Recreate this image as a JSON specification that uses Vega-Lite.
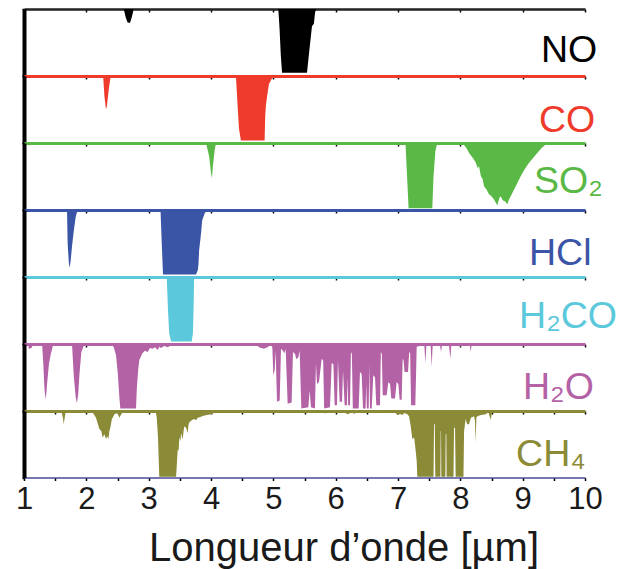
{
  "$schema": "https://vega.github.io/schema/vega-lite/v6.json",
  "background": "white",
  "padding": {"left": 15, "top": 8, "right": 0, "bottom": 0},
  "spacing": 0,
  "bounds": "flush",
  "config": {"view": {"stroke": null}, "font": "Liberation Sans", "axis": {"grid": false}},
  "datasets": {
    "spectra": [
      {"species":"NO","wl":2.60,"a":0},{"species":"NO","wl":2.63,"a":0.12},{"species":"NO","wl":2.66,"a":0.2},{"species":"NO","wl":2.70,"a":0.21},{"species":"NO","wl":2.73,"a":0.12},{"species":"NO","wl":2.76,"a":0},
      {"species":"NO","wl":5.08,"a":0},{"species":"NO","wl":5.10,"a":0.3},{"species":"NO","wl":5.12,"a":0.7},{"species":"NO","wl":5.14,"a":0.96},{"species":"NO","wl":5.54,"a":0.96},{"species":"NO","wl":5.58,"a":0.6},{"species":"NO","wl":5.62,"a":0.26},{"species":"NO","wl":5.65,"a":0.22},{"species":"NO","wl":5.67,"a":0.05},{"species":"NO","wl":5.69,"a":0},
      {"species":"CO","wl":2.27,"a":0},{"species":"CO","wl":2.29,"a":0.3},{"species":"CO","wl":2.315,"a":0.5},{"species":"CO","wl":2.33,"a":0.45},{"species":"CO","wl":2.36,"a":0.2},{"species":"CO","wl":2.39,"a":0},
      {"species":"CO","wl":4.40,"a":0},{"species":"CO","wl":4.43,"a":0.5},{"species":"CO","wl":4.45,"a":0.8},{"species":"CO","wl":4.48,"a":0.97},{"species":"CO","wl":4.86,"a":0.97},{"species":"CO","wl":4.87,"a":0.6},{"species":"CO","wl":4.88,"a":0.45},{"species":"CO","wl":4.90,"a":0.3},{"species":"CO","wl":4.93,"a":0.12},{"species":"CO","wl":4.97,"a":0.05},{"species":"CO","wl":5.01,"a":0},
      {"species":"SO2","wl":3.92,"a":0},{"species":"SO2","wl":3.97,"a":0.2},{"species":"SO2","wl":4.0,"a":0.45},{"species":"SO2","wl":4.015,"a":0.53},{"species":"SO2","wl":4.03,"a":0.35},{"species":"SO2","wl":4.06,"a":0.1},{"species":"SO2","wl":4.08,"a":0},
      {"species":"SO2","wl":7.12,"a":0},{"species":"SO2","wl":7.14,"a":0.4},{"species":"SO2","wl":7.17,"a":0.98},{"species":"SO2","wl":7.55,"a":0.98},{"species":"SO2","wl":7.57,"a":0.5},{"species":"SO2","wl":7.60,"a":0.12},{"species":"SO2","wl":7.63,"a":0},
      {"species":"SO2","wl":8.02,"a":0},{"species":"SO2","wl":8.06,"a":0.03},{"species":"SO2","wl":8.10,"a":0.08},{"species":"SO2","wl":8.14,"a":0.15},{"species":"SO2","wl":8.18,"a":0.2},{"species":"SO2","wl":8.22,"a":0.25},{"species":"SO2","wl":8.25,"a":0.30},{"species":"SO2","wl":8.28,"a":0.38},{"species":"SO2","wl":8.30,"a":0.35},{"species":"SO2","wl":8.33,"a":0.5},{"species":"SO2","wl":8.36,"a":0.55},{"species":"SO2","wl":8.38,"a":0.65},{"species":"SO2","wl":8.42,"a":0.7},{"species":"SO2","wl":8.46,"a":0.77},{"species":"SO2","wl":8.50,"a":0.8},{"species":"SO2","wl":8.54,"a":0.85},{"species":"SO2","wl":8.57,"a":0.9},{"species":"SO2","wl":8.594,"a":0.94},{"species":"SO2","wl":8.61,"a":0.88},{"species":"SO2","wl":8.63,"a":0.82},{"species":"SO2","wl":8.648,"a":0.80},{"species":"SO2","wl":8.68,"a":0.86},{"species":"SO2","wl":8.72,"a":0.88},{"species":"SO2","wl":8.755,"a":0.92},{"species":"SO2","wl":8.78,"a":0.85},{"species":"SO2","wl":8.808,"a":0.80},{"species":"SO2","wl":8.85,"a":0.72},{"species":"SO2","wl":8.889,"a":0.65},{"species":"SO2","wl":8.93,"a":0.57},{"species":"SO2","wl":8.969,"a":0.50},{"species":"SO2","wl":9.03,"a":0.40},{"species":"SO2","wl":9.10,"a":0.30},{"species":"SO2","wl":9.17,"a":0.22},{"species":"SO2","wl":9.235,"a":0.15},{"species":"SO2","wl":9.30,"a":0.08},{"species":"SO2","wl":9.36,"a":0.03},{"species":"SO2","wl":9.40,"a":0},
      {"species":"HCl","wl":1.69,"a":0},{"species":"HCl","wl":1.70,"a":0.5},{"species":"HCl","wl":1.72,"a":0.8},{"species":"HCl","wl":1.733,"a":0.87},{"species":"HCl","wl":1.75,"a":0.75},{"species":"HCl","wl":1.77,"a":0.55},{"species":"HCl","wl":1.80,"a":0.3},{"species":"HCl","wl":1.83,"a":0.1},{"species":"HCl","wl":1.86,"a":0},
      {"species":"HCl","wl":3.19,"a":0},{"species":"HCl","wl":3.21,"a":0.5},{"species":"HCl","wl":3.23,"a":0.97},{"species":"HCl","wl":3.76,"a":0.97},{"species":"HCl","wl":3.79,"a":0.9},{"species":"HCl","wl":3.80,"a":0.8},{"species":"HCl","wl":3.81,"a":0.6},{"species":"HCl","wl":3.835,"a":0.4},{"species":"HCl","wl":3.86,"a":0.15},{"species":"HCl","wl":3.90,"a":0.05},{"species":"HCl","wl":3.94,"a":0},
      {"species":"H2CO","wl":3.29,"a":0},{"species":"H2CO","wl":3.31,"a":0.5},{"species":"H2CO","wl":3.33,"a":0.85},{"species":"H2CO","wl":3.36,"a":0.97},{"species":"H2CO","wl":3.69,"a":0.97},{"species":"H2CO","wl":3.71,"a":0.85},{"species":"H2CO","wl":3.72,"a":0.5},{"species":"H2CO","wl":3.73,"a":0},
      {"species":"H2O","wl":1.06,"a":0},{"species":"H2O","wl":1.08,"a":0.07},{"species":"H2O","wl":1.12,"a":0.06},{"species":"H2O","wl":1.15,"a":0},
      {"species":"H2O","wl":1.29,"a":0},{"species":"H2O","wl":1.31,"a":0.3},{"species":"H2O","wl":1.33,"a":0.7},{"species":"H2O","wl":1.35,"a":0.84},{"species":"H2O","wl":1.37,"a":0.6},{"species":"H2O","wl":1.40,"a":0.3},{"species":"H2O","wl":1.43,"a":0.15},{"species":"H2O","wl":1.45,"a":0.08},{"species":"H2O","wl":1.47,"a":0},
      {"species":"H2O","wl":1.77,"a":0},{"species":"H2O","wl":1.80,"a":0.5},{"species":"H2O","wl":1.83,"a":0.8},{"species":"H2O","wl":1.85,"a":0.89},{"species":"H2O","wl":1.87,"a":0.75},{"species":"H2O","wl":1.89,"a":0.45},{"species":"H2O","wl":1.92,"a":0.12},{"species":"H2O","wl":1.95,"a":0.05},{"species":"H2O","wl":1.97,"a":0},
      {"species":"H2O","wl":2.40,"a":0},{"species":"H2O","wl":2.44,"a":0.05},{"species":"H2O","wl":2.476,"a":0.17},{"species":"H2O","wl":2.503,"a":0.42},{"species":"H2O","wl":2.53,"a":0.8},{"species":"H2O","wl":2.545,"a":0.97},{"species":"H2O","wl":2.797,"a":0.97},{"species":"H2O","wl":2.81,"a":0.67},{"species":"H2O","wl":2.834,"a":0.37},{"species":"H2O","wl":2.85,"a":0.24},{"species":"H2O","wl":2.87,"a":0.2},{"species":"H2O","wl":2.90,"a":0.14},{"species":"H2O","wl":2.94,"a":0.10},{"species":"H2O","wl":2.985,"a":0.12},{"species":"H2O","wl":3.02,"a":0.06},{"species":"H2O","wl":3.065,"a":0.07},{"species":"H2O","wl":3.10,"a":0.05},{"species":"H2O","wl":3.145,"a":0.09},{"species":"H2O","wl":3.17,"a":0.04},{"species":"H2O","wl":3.198,"a":0.06},{"species":"H2O","wl":3.25,"a":0.03},{"species":"H2O","wl":3.305,"a":0.05},{"species":"H2O","wl":3.36,"a":0.02},{"species":"H2O","wl":3.41,"a":0.03},{"species":"H2O","wl":3.50,"a":0.01},{"species":"H2O","wl":3.63,"a":0},
      {"species":"H2O","wl":4.717,"a":0},{"species":"H2O","wl":4.770,"a":0.05},{"species":"H2O","wl":4.850,"a":0.07},{"species":"H2O","wl":4.920,"a":0.04},{"species":"H2O","wl":4.957,"a":0},{"species":"H2O","wl":4.984,"a":0.05},{"species":"H2O","wl":5.000,"a":0.47},{"species":"H2O","wl":5.021,"a":0.40},{"species":"H2O","wl":5.037,"a":0.1},{"species":"H2O","wl":5.059,"a":0.87},{"species":"H2O","wl":5.102,"a":0.85},{"species":"H2O","wl":5.123,"a":0.07},{"species":"H2O","wl":5.155,"a":0.1},{"species":"H2O","wl":5.176,"a":0.14},{"species":"H2O","wl":5.198,"a":0.08},{"species":"H2O","wl":5.230,"a":0.9},{"species":"H2O","wl":5.294,"a":0.88},{"species":"H2O","wl":5.315,"a":0.12},{"species":"H2O","wl":5.348,"a":0.15},{"species":"H2O","wl":5.369,"a":0.23},{"species":"H2O","wl":5.401,"a":0.2},{"species":"H2O","wl":5.422,"a":0.1},{"species":"H2O","wl":5.449,"a":0.97},{"species":"H2O","wl":5.562,"a":0.95},{"species":"H2O","wl":5.583,"a":0.7},{"species":"H2O","wl":5.604,"a":0.95},{"species":"H2O","wl":5.668,"a":0.97},{"species":"H2O","wl":5.684,"a":0.29},{"species":"H2O","wl":5.701,"a":0.6},{"species":"H2O","wl":5.733,"a":0.57},{"species":"H2O","wl":5.775,"a":0.22},{"species":"H2O","wl":5.800,"a":0.25},{"species":"H2O","wl":5.815,"a":0.97},{"species":"H2O","wl":5.909,"a":0.95},{"species":"H2O","wl":5.936,"a":0.29},{"species":"H2O","wl":5.963,"a":0.3},{"species":"H2O","wl":5.984,"a":0.92},{"species":"H2O","wl":6.021,"a":0.92},{"species":"H2O","wl":6.037,"a":0.24},{"species":"H2O","wl":6.064,"a":0.87},{"species":"H2O","wl":6.102,"a":0.87},{"species":"H2O","wl":6.118,"a":0.4},{"species":"H2O","wl":6.144,"a":0.92},{"species":"H2O","wl":6.180,"a":0.92},{"species":"H2O","wl":6.190,"a":0.5},{"species":"H2O","wl":6.200,"a":0.92},{"species":"H2O","wl":6.230,"a":0.92},{"species":"H2O","wl":6.245,"a":0.12},{"species":"H2O","wl":6.260,"a":0.15},{"species":"H2O","wl":6.275,"a":0.97},{"species":"H2O","wl":6.369,"a":0.97},{"species":"H2O","wl":6.390,"a":0.42},{"species":"H2O","wl":6.417,"a":0.45},{"species":"H2O","wl":6.439,"a":0.97},{"species":"H2O","wl":6.480,"a":0.97},{"species":"H2O","wl":6.490,"a":0.6},{"species":"H2O","wl":6.500,"a":0.97},{"species":"H2O","wl":6.530,"a":0.97},{"species":"H2O","wl":6.540,"a":0.3},{"species":"H2O","wl":6.550,"a":0.97},{"species":"H2O","wl":6.578,"a":0.97},{"species":"H2O","wl":6.604,"a":0.47},{"species":"H2O","wl":6.631,"a":0.5},{"species":"H2O","wl":6.652,"a":0.92},{"species":"H2O","wl":6.711,"a":0.92},{"species":"H2O","wl":6.725,"a":0.12},{"species":"H2O","wl":6.740,"a":0.15},{"species":"H2O","wl":6.755,"a":0.77},{"species":"H2O","wl":6.818,"a":0.77},{"species":"H2O","wl":6.845,"a":0.57},{"species":"H2O","wl":6.872,"a":0.6},{"species":"H2O","wl":6.893,"a":0.82},{"species":"H2O","wl":6.952,"a":0.82},{"species":"H2O","wl":6.979,"a":0.57},{"species":"H2O","wl":7.005,"a":0.6},{"species":"H2O","wl":7.027,"a":0.84},{"species":"H2O","wl":7.059,"a":0.84},{"species":"H2O","wl":7.075,"a":0.22},{"species":"H2O","wl":7.090,"a":0.25},{"species":"H2O","wl":7.105,"a":0.42},{"species":"H2O","wl":7.161,"a":0.42},{"species":"H2O","wl":7.180,"a":0.12},{"species":"H2O","wl":7.195,"a":0.14},{"species":"H2O","wl":7.210,"a":0.92},{"species":"H2O","wl":7.278,"a":0.92},{"species":"H2O","wl":7.300,"a":0.04},{"species":"H2O","wl":7.391,"a":0.02},{"species":"H2O","wl":7.423,"a":0.03},{"species":"H2O","wl":7.439,"a":0.29},{"species":"H2O","wl":7.455,"a":0.03},{"species":"H2O","wl":7.524,"a":0.03},{"species":"H2O","wl":7.540,"a":0.34},{"species":"H2O","wl":7.556,"a":0.03},{"species":"H2O","wl":7.604,"a":0.01},{"species":"H2O","wl":7.674,"a":0.02},{"species":"H2O","wl":7.690,"a":0.12},{"species":"H2O","wl":7.706,"a":0.01},{"species":"H2O","wl":7.818,"a":0.02},{"species":"H2O","wl":7.840,"a":0.22},{"species":"H2O","wl":7.856,"a":0.01},{"species":"H2O","wl":7.979,"a":0.01},{"species":"H2O","wl":8.000,"a":0.05},{"species":"H2O","wl":8.016,"a":0},{"species":"H2O","wl":8.150,"a":0},{"species":"H2O","wl":8.166,"a":0.12},{"species":"H2O","wl":8.182,"a":0},
      {"species":"CH4","wl":1.60,"a":0},{"species":"CH4","wl":1.625,"a":0.1},{"species":"CH4","wl":1.637,"a":0.2},{"species":"CH4","wl":1.65,"a":0.12},{"species":"CH4","wl":1.67,"a":0},
      {"species":"CH4","wl":2.08,"a":0},{"species":"CH4","wl":2.10,"a":0.02},{"species":"CH4","wl":2.155,"a":0.1},{"species":"CH4","wl":2.209,"a":0.27},{"species":"CH4","wl":2.24,"a":0.3},{"species":"CH4","wl":2.262,"a":0.4},{"species":"CH4","wl":2.29,"a":0.35},{"species":"CH4","wl":2.316,"a":0.42},{"species":"CH4","wl":2.335,"a":0.38},{"species":"CH4","wl":2.353,"a":0.42},{"species":"CH4","wl":2.37,"a":0.3},{"species":"CH4","wl":2.385,"a":0.25},{"species":"CH4","wl":2.41,"a":0.12},{"species":"CH4","wl":2.423,"a":0.1},{"species":"CH4","wl":2.45,"a":0.05},{"species":"CH4","wl":2.50,"a":0.03},{"species":"CH4","wl":2.53,"a":0.1},{"species":"CH4","wl":2.56,"a":0.05},{"species":"CH4","wl":2.60,"a":0},
      {"species":"CH4","wl":3.11,"a":0},{"species":"CH4","wl":3.13,"a":0.1},{"species":"CH4","wl":3.15,"a":0.4},{"species":"CH4","wl":3.17,"a":0.99},{"species":"CH4","wl":3.44,"a":0.99},{"species":"CH4","wl":3.466,"a":0.58},{"species":"CH4","wl":3.48,"a":0.6},{"species":"CH4","wl":3.492,"a":0.40},{"species":"CH4","wl":3.51,"a":0.45},{"species":"CH4","wl":3.519,"a":0.33},{"species":"CH4","wl":3.546,"a":0.43},{"species":"CH4","wl":3.56,"a":0.3},{"species":"CH4","wl":3.573,"a":0.23},{"species":"CH4","wl":3.60,"a":0.25},{"species":"CH4","wl":3.626,"a":0.33},{"species":"CH4","wl":3.64,"a":0.2},{"species":"CH4","wl":3.653,"a":0.17},{"species":"CH4","wl":3.70,"a":0.13},{"species":"CH4","wl":3.733,"a":0.12},{"species":"CH4","wl":3.76,"a":0.14},{"species":"CH4","wl":3.787,"a":0.1},{"species":"CH4","wl":3.83,"a":0.09},{"species":"CH4","wl":3.867,"a":0.075},{"species":"CH4","wl":3.93,"a":0.06},{"species":"CH4","wl":4.001,"a":0.05},{"species":"CH4","wl":4.05,"a":0.03},{"species":"CH4","wl":4.108,"a":0.02},{"species":"CH4","wl":4.15,"a":0},
      {"species":"CH4","wl":5.40,"a":0},{"species":"CH4","wl":5.43,"a":0.03},{"species":"CH4","wl":5.46,"a":0},{"species":"CH4","wl":5.80,"a":0},{"species":"CH4","wl":5.83,"a":0.04},{"species":"CH4","wl":5.86,"a":0},{"species":"CH4","wl":6.10,"a":0},{"species":"CH4","wl":6.15,"a":0.03},{"species":"CH4","wl":6.20,"a":0.05},{"species":"CH4","wl":6.25,"a":0.02},{"species":"CH4","wl":6.30,"a":0.04},{"species":"CH4","wl":6.35,"a":0.02},{"species":"CH4","wl":6.40,"a":0},
      {"species":"CH4","wl":6.50,"a":0},{"species":"CH4","wl":6.54,"a":0.03},{"species":"CH4","wl":6.60,"a":0.02},{"species":"CH4","wl":6.64,"a":0.03},{"species":"CH4","wl":6.70,"a":0},{"species":"CH4","wl":6.75,"a":0.02},{"species":"CH4","wl":6.80,"a":0},{"species":"CH4","wl":6.95,"a":0.02},{"species":"CH4","wl":6.99,"a":0.06},{"species":"CH4","wl":7.03,"a":0.04},{"species":"CH4","wl":7.07,"a":0.06},{"species":"CH4","wl":7.10,"a":0.03},{"species":"CH4","wl":7.15,"a":0.05},{"species":"CH4","wl":7.177,"a":0.08},{"species":"CH4","wl":7.203,"a":0.22},{"species":"CH4","wl":7.23,"a":0.42},{"species":"CH4","wl":7.26,"a":0.4},{"species":"CH4","wl":7.284,"a":0.6},{"species":"CH4","wl":7.30,"a":0.75},{"species":"CH4","wl":7.31,"a":0.99},{"species":"CH4","wl":7.57,"a":0.99},{"species":"CH4","wl":7.578,"a":0.2},{"species":"CH4","wl":7.59,"a":0.2},{"species":"CH4","wl":7.598,"a":0.99},{"species":"CH4","wl":7.68,"a":0.99},{"species":"CH4","wl":7.685,"a":0.3},{"species":"CH4","wl":7.69,"a":0.3},{"species":"CH4","wl":7.695,"a":0.99},{"species":"CH4","wl":7.76,"a":0.99},{"species":"CH4","wl":7.765,"a":0.35},{"species":"CH4","wl":7.775,"a":0.35},{"species":"CH4","wl":7.78,"a":0.99},{"species":"CH4","wl":7.89,"a":0.99},{"species":"CH4","wl":7.899,"a":0.25},{"species":"CH4","wl":7.915,"a":0.25},{"species":"CH4","wl":7.925,"a":0.99},{"species":"CH4","wl":8.05,"a":0.99},{"species":"CH4","wl":8.06,"a":0.3},{"species":"CH4","wl":8.086,"a":0.12},{"species":"CH4","wl":8.11,"a":0.2},{"species":"CH4","wl":8.139,"a":0.2},{"species":"CH4","wl":8.17,"a":0.1},{"species":"CH4","wl":8.22,"a":0.08},{"species":"CH4","wl":8.235,"a":0.15},{"species":"CH4","wl":8.246,"a":0.47},{"species":"CH4","wl":8.257,"a":0.1},{"species":"CH4","wl":8.273,"a":0.08},{"species":"CH4","wl":8.33,"a":0.06},{"species":"CH4","wl":8.407,"a":0.05},{"species":"CH4","wl":8.45,"a":0.02},{"species":"CH4","wl":8.487,"a":0.13},{"species":"CH4","wl":8.51,"a":0.02},{"species":"CH4","wl":8.567,"a":0.03},{"species":"CH4","wl":8.60,"a":0}
    ]
  },
  "data": {"name": "spectra"},
  "vconcat": [
    {"width": 561, "height": 66.5, "layer": [
      {"transform": [{"filter": "datum.species === 'NO'"}], "mark": {"type": "area", "color": "#000000", "interpolate": "linear"},
       "encoding": {
         "x": {"field": "wl", "type": "quantitative", "scale": {"domain": [1, 10], "nice": false}, "axis": {"orient": "top", "domainColor": "#222222", "domainWidth": 2.5, "labels": false, "tickColor": "#000", "tickSize": -3, "tickWidth": 1.5, "values": [1,1.5,2,2.5,3,3.5,4,4.5,5,5.5,6,6.5,7,7.5,8,8.5,9,9.5,10], "title": null}},
         "y": {"field": "a", "type": "quantitative", "scale": {"domain": [0, 1], "reverse": true, "nice": false}, "axis": {"orient": "left", "domainColor": "#000", "domainWidth": 4, "labels": false, "tickColor": "#000", "tickSize": 2, "tickWidth": 1.5, "values": [0,0.2,0.4,0.6,0.8,1], "title": null}}}},
      {"data": {"values": [{"label": "NO"}]}, "mark": {"type": "text", "color": "#000000", "font": "Liberation Sans", "fontSize": 37.5, "align": "left", "baseline": "alphabetic"},
       "encoding": {"x": {"datum": 9.294, "type": "quantitative"}, "y": {"datum": 0.8, "type": "quantitative"}, "text": {"field": "label"}}}
    ]},
    {"width": 561, "height": 66.5, "layer": [
      {"transform": [{"filter": "datum.species === 'CO'"}], "mark": {"type": "area", "color": "#ee3b2b", "interpolate": "linear"},
       "encoding": {
         "x": {"field": "wl", "type": "quantitative", "scale": {"domain": [1, 10], "nice": false}, "axis": {"orient": "top", "domainColor": "#ee3b2b", "domainWidth": 3, "labels": false, "tickColor": "#000", "tickSize": -3, "tickWidth": 1.5, "values": [1,1.5,2,2.5,3,3.5,4,4.5,5,5.5,6,6.5,7,7.5,8,8.5,9,9.5,10], "title": null}},
         "y": {"field": "a", "type": "quantitative", "scale": {"domain": [0, 1], "reverse": true, "nice": false}, "axis": {"orient": "left", "domainColor": "#000", "domainWidth": 4, "labels": false, "tickColor": "#000", "tickSize": 2, "tickWidth": 1.5, "values": [0,0.2,0.4,0.6,0.8,1], "title": null}}}},
      {"data": {"values": [{"label": "CO"}]}, "mark": {"type": "text", "color": "#ee3b2b", "font": "Liberation Sans", "fontSize": 37.5, "align": "left", "baseline": "alphabetic"},
       "encoding": {"x": {"datum": 9.262, "type": "quantitative"}, "y": {"datum": 0.84, "type": "quantitative"}, "text": {"field": "label"}}}
    ]},
    {"width": 561, "height": 66.5, "layer": [
      {"transform": [{"filter": "datum.species === 'SO2'"}], "mark": {"type": "area", "color": "#5ab946", "interpolate": "linear"},
       "encoding": {
         "x": {"field": "wl", "type": "quantitative", "scale": {"domain": [1, 10], "nice": false}, "axis": {"orient": "top", "domainColor": "#5ab946", "domainWidth": 3, "labels": false, "tickColor": "#000", "tickSize": -3, "tickWidth": 1.5, "values": [1,1.5,2,2.5,3,3.5,4,4.5,5,5.5,6,6.5,7,7.5,8,8.5,9,9.5,10], "title": null}},
         "y": {"field": "a", "type": "quantitative", "scale": {"domain": [0, 1], "reverse": true, "nice": false}, "axis": {"orient": "left", "domainColor": "#000", "domainWidth": 4, "labels": false, "tickColor": "#000", "tickSize": 2, "tickWidth": 1.5, "values": [0,0.2,0.4,0.6,0.8,1], "title": null}}}},
      {"data": {"values": [{"label": "SO₂"}]}, "mark": {"type": "text", "color": "#5ab946", "font": "Liberation Sans", "fontSize": 37.5, "align": "left", "baseline": "alphabetic"},
       "encoding": {"x": {"datum": 9.182, "type": "quantitative"}, "y": {"datum": 0.75, "type": "quantitative"}, "text": {"field": "label"}}}
    ]},
    {"width": 561, "height": 66.5, "layer": [
      {"transform": [{"filter": "datum.species === 'HCl'"}], "mark": {"type": "area", "color": "#3a55a5", "interpolate": "linear"},
       "encoding": {
         "x": {"field": "wl", "type": "quantitative", "scale": {"domain": [1, 10], "nice": false}, "axis": {"orient": "top", "domainColor": "#3a55a5", "domainWidth": 3, "labels": false, "tickColor": "#000", "tickSize": -3, "tickWidth": 1.5, "values": [1,1.5,2,2.5,3,3.5,4,4.5,5,5.5,6,6.5,7,7.5,8,8.5,9,9.5,10], "title": null}},
         "y": {"field": "a", "type": "quantitative", "scale": {"domain": [0, 1], "reverse": true, "nice": false}, "axis": {"orient": "left", "domainColor": "#000", "domainWidth": 4, "labels": false, "tickColor": "#000", "tickSize": 2, "tickWidth": 1.5, "values": [0,0.2,0.4,0.6,0.8,1], "title": null}}}},
      {"data": {"values": [{"label": "HCl"}]}, "mark": {"type": "text", "color": "#3a55a5", "font": "Liberation Sans", "fontSize": 37.5, "align": "left", "baseline": "alphabetic"},
       "encoding": {"x": {"datum": 9.102, "type": "quantitative"}, "y": {"datum": 0.82, "type": "quantitative"}, "text": {"field": "label"}}}
    ]},
    {"width": 561, "height": 66.5, "layer": [
      {"transform": [{"filter": "datum.species === 'H2CO'"}], "mark": {"type": "area", "color": "#5cc8dc", "interpolate": "linear"},
       "encoding": {
         "x": {"field": "wl", "type": "quantitative", "scale": {"domain": [1, 10], "nice": false}, "axis": {"orient": "top", "domainColor": "#5cc8dc", "domainWidth": 3, "labels": false, "tickColor": "#000", "tickSize": -3, "tickWidth": 1.5, "values": [1,1.5,2,2.5,3,3.5,4,4.5,5,5.5,6,6.5,7,7.5,8,8.5,9,9.5,10], "title": null}},
         "y": {"field": "a", "type": "quantitative", "scale": {"domain": [0, 1], "reverse": true, "nice": false}, "axis": {"orient": "left", "domainColor": "#000", "domainWidth": 4, "labels": false, "tickColor": "#000", "tickSize": 2, "tickWidth": 1.5, "values": [0,0.2,0.4,0.6,0.8,1], "title": null}}}},
      {"data": {"values": [{"label": "H₂CO"}]}, "mark": {"type": "text", "color": "#5cc8dc", "font": "Liberation Sans", "fontSize": 37.5, "align": "left", "baseline": "alphabetic"},
       "encoding": {"x": {"datum": 8.942, "type": "quantitative"}, "y": {"datum": 0.77, "type": "quantitative"}, "text": {"field": "label"}}}
    ]},
    {"width": 561, "height": 66.5, "layer": [
      {"transform": [{"filter": "datum.species === 'H2O'"}], "mark": {"type": "area", "color": "#b462a6", "interpolate": "linear"},
       "encoding": {
         "x": {"field": "wl", "type": "quantitative", "scale": {"domain": [1, 10], "nice": false}, "axis": {"orient": "top", "domainColor": "#b462a6", "domainWidth": 3, "labels": false, "tickColor": "#000", "tickSize": -3, "tickWidth": 1.5, "values": [1,1.5,2,2.5,3,3.5,4,4.5,5,5.5,6,6.5,7,7.5,8,8.5,9,9.5,10], "title": null}},
         "y": {"field": "a", "type": "quantitative", "scale": {"domain": [0, 1], "reverse": true, "nice": false}, "axis": {"orient": "left", "domainColor": "#000", "domainWidth": 4, "labels": false, "tickColor": "#000", "tickSize": 2, "tickWidth": 1.5, "values": [0,0.2,0.4,0.6,0.8,1], "title": null}}}},
      {"data": {"values": [{"label": "H₂O"}]}, "mark": {"type": "text", "color": "#b462a6", "font": "Liberation Sans", "fontSize": 37.5, "align": "left", "baseline": "alphabetic"},
       "encoding": {"x": {"datum": 9.006, "type": "quantitative"}, "y": {"datum": 0.82, "type": "quantitative"}, "text": {"field": "label"}}}
    ]},
    {"width": 561, "height": 66.5, "resolve": {"axis": {"x": "independent"}}, "layer": [
      {"transform": [{"filter": "datum.species === 'CH4'"}], "mark": {"type": "area", "color": "#8b8a36", "interpolate": "linear"},
       "encoding": {
         "x": {"field": "wl", "type": "quantitative", "scale": {"domain": [1, 10], "nice": false}, "axis": {"orient": "top", "domainColor": "#8b8a36", "domainWidth": 3, "labels": false, "tickColor": "#000", "tickSize": -3, "tickWidth": 1.5, "values": [1,1.5,2,2.5,3,3.5,4,4.5,5,5.5,6,6.5,7,7.5,8,8.5,9,9.5,10], "title": null}},
         "y": {"field": "a", "type": "quantitative", "scale": {"domain": [0, 1], "reverse": true, "nice": false}, "axis": {"orient": "left", "domainColor": "#000", "domainWidth": 4, "labels": false, "tickColor": "#000", "tickSize": 2, "tickWidth": 1.5, "values": [0,0.2,0.4,0.6,0.8,1], "title": null}}}},
      {"data": {"values": [{"label": "CH₄"}]}, "mark": {"type": "text", "color": "#8b8a36", "font": "Liberation Sans", "fontSize": 37.5, "align": "left", "baseline": "alphabetic"},
       "encoding": {
         "x": {"datum": 8.894, "type": "quantitative", "axis": {"orient": "bottom", "values": [1,1.5,2,2.5,3,3.5,4,4.5,5,5.5,6,6.5,7,7.5,8,8.5,9,9.5,10], "labelExpr": "datum.value % 1 === 0 ? '' + datum.value : ''", "labelFont": "Liberation Sans", "labelFontSize": 31, "labelColor": "#1a1a1a", "labelPadding": 4, "labelFlush": false, "labelOverlap": false, "domainColor": "#4b4b96", "domainWidth": 1.5, "tickColor": "#000", "tickSize": 3, "tickWidth": 1.5, "title": "Longueur d’onde [µm]", "titleFont": "Liberation Sans", "titleFontSize": 40, "titleFontWeight": "normal", "titleColor": "#1a1a1a", "titlePadding": 14, "titleX": 319.5, "titleAlign": "center", "titleAnchor": null}},
         "y": {"datum": 0.83, "type": "quantitative"}, "text": {"field": "label"}}}
    ]}
  ]
}
